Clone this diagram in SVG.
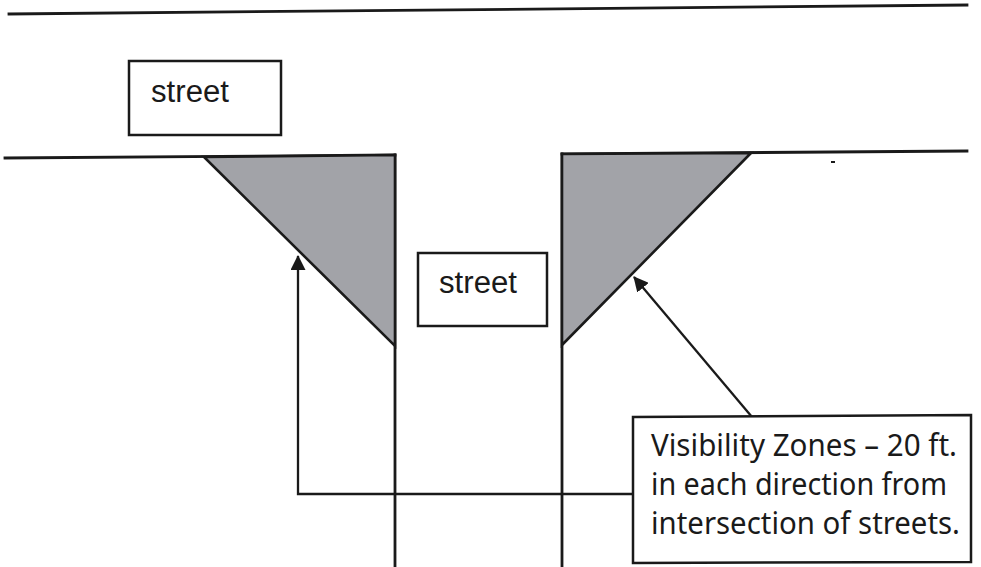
<svg xmlns="http://www.w3.org/2000/svg" width="981" height="567" viewBox="0 0 981 567">
  <style>
    .ln { stroke: #1a1a1a; stroke-width: 2.8; fill: none; stroke-linecap: square; }
    .box { fill: #ffffff; stroke: #1a1a1a; stroke-width: 2.5; }
    .zone { fill: #a2a3a8; stroke: #1a1a1a; stroke-width: 2.6; stroke-linejoin: miter; }
    .conn { stroke: #1a1a1a; stroke-width: 2.3; fill: none; }
    .st { font-family: "Liberation Sans", Arial, sans-serif; font-size: 31px; fill: #1a1a1a; }
    .note { font-family: "Noto Sans", "Open Sans", sans-serif; font-size: 30px; fill: #1a1a1a; }
  </style>
  <defs>
    <marker id="ah" viewBox="0 0 15 15" markerWidth="15" markerHeight="15" refX="14" refY="7.5" orient="auto" markerUnits="userSpaceOnUse">
      <path d="M0,0 L15,7.5 L0,15 Z" fill="#1a1a1a"/>
    </marker>
  </defs>
  <rect width="981" height="567" fill="#ffffff"/>

  <g id="streets">
    <line class="ln" x1="9" y1="14" x2="967" y2="5"/>
    <line class="ln" x1="5" y1="158" x2="395" y2="155"/>
    <line class="ln" x1="562" y1="154" x2="967" y2="151"/>
    <line class="ln" x1="395" y1="155" x2="395" y2="567"/>
    <line class="ln" x1="562" y1="154" x2="562" y2="567"/>
    <line x1="831" y1="162" x2="835" y2="162" stroke="#1a1a1a" stroke-width="2"/>
  </g>

  <g id="zone-left">
    <polygon class="zone" points="204,157 395,155 395,346"/>
  </g>
  <g id="zone-right">
    <polygon class="zone" points="562,154 751,153 562,345"/>
  </g>

  <g id="street-top">
    <rect class="box" x="129" y="61" width="152" height="74"/>
    <text class="st" x="151" y="102" textLength="78" lengthAdjust="spacingAndGlyphs">street</text>
  </g>

  <g id="street-middle">
    <rect class="box" x="418" y="253" width="129" height="73"/>
    <text class="st" x="439" y="293" textLength="78" lengthAdjust="spacingAndGlyphs">street</text>
  </g>

  <g id="connectors">
    <polyline class="conn" points="633,494 298,494 298,256" marker-end="url(#ah)"/>
    <line class="conn" x1="752" y1="417" x2="634" y2="277" marker-end="url(#ah)"/>
  </g>

  <g id="note">
    <polygon class="box" points="633,417 971,415 971,562 633,563"/>
    <text class="note" x="651" y="456" textLength="306" lengthAdjust="spacingAndGlyphs">Visibility Zones – 20 ft.</text>
    <text class="note" x="651" y="495" textLength="296" lengthAdjust="spacingAndGlyphs">in each direction from</text>
    <text class="note" x="651" y="534" textLength="309" lengthAdjust="spacingAndGlyphs">intersection of streets.</text>
  </g>
</svg>
